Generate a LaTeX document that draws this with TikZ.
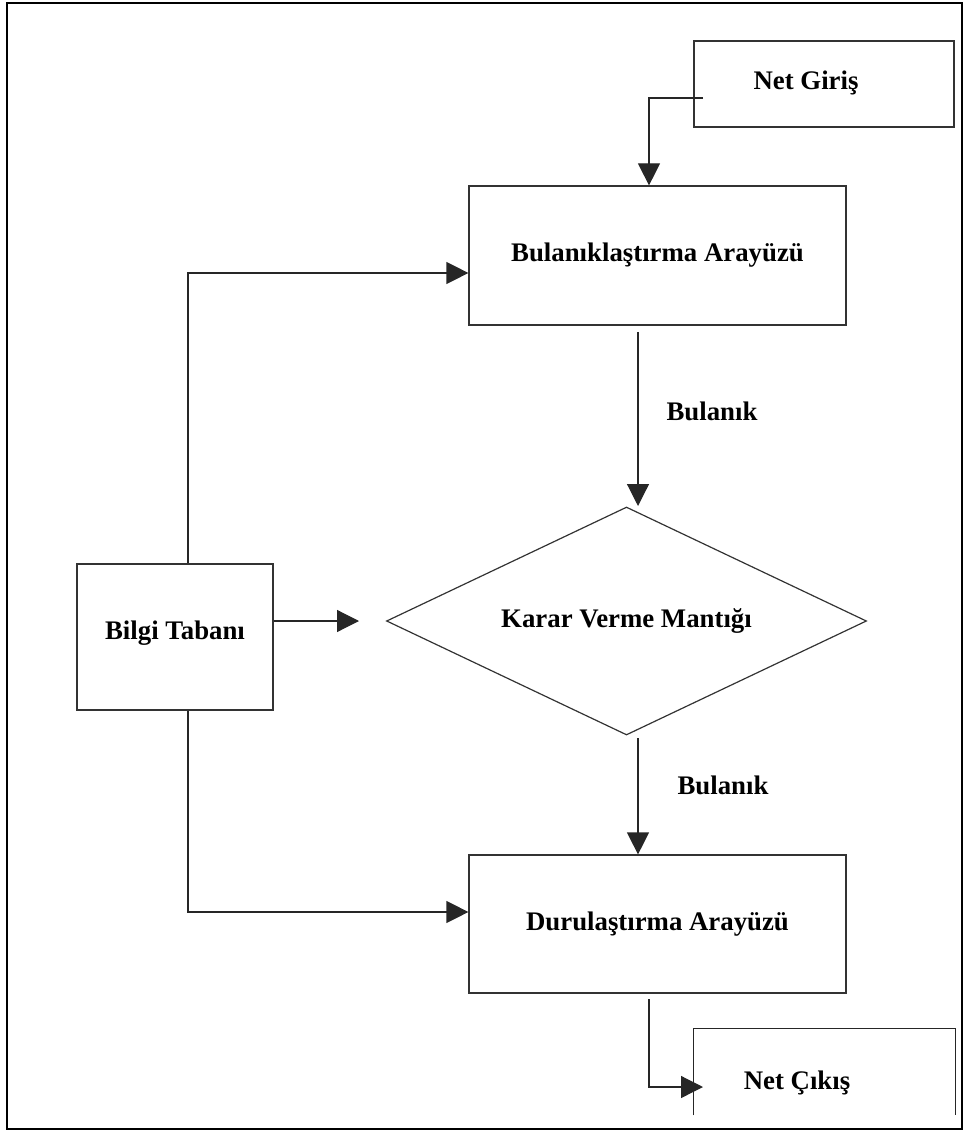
\documentclass[tikz,border=0pt]{standalone}
\usepackage{fontspec}
\setmainfont{Liberation Serif}
\usetikzlibrary{arrows.meta,shapes.geometric}
\tikzset{
	box/.style={draw=black!80, line width=0.6pt, rectangle, inner sep=0pt},
	lbl/.style={font=\fontsize{13.4}{16}\selectfont\bfseries, inner sep=0pt},
	link/.style={draw=black!85, line width=0.6pt},
	arr/.style={link, -{Triangle[length=11pt,width=11pt]}},
}
\begin{document}
\begin{tikzpicture}[x=0.5pt,y=-0.5pt]
		\useasboundingbox (0,0) rectangle (964,1133);
		\draw[line width=1pt] (7,3) rectangle (962,1129);
		\node[box, minimum width=130pt, minimum height=43pt] (netgiris) at (824,84) {};
		\node[lbl] (netgirist) at (806,83) {Net Giriş};
		\node[box, lbl, minimum width=188.5pt, minimum height=69.5pt] (bulan) at (657.5,255.5) {Bulanıklaştırma Arayüzü};
		\node[box, lbl, diamond, aspect=2.1, minimum width=240pt, minimum height=114pt] (karar) at (626.5,621) {Karar Verme Mantığı};
		\node[box, lbl, minimum width=98pt, minimum height=73pt] (bilgi) at (175,637) {\raisebox{7pt}{Bilgi Tabanı}};
		\node[box, lbl, minimum width=188.5pt, minimum height=69pt] (duru) at (657.5,924) {\raisebox{2pt}{Durulaştırma Arayüzü}};
		\node[minimum width=130.5pt, minimum height=43pt, inner sep=0pt] (netcikis) at (824.5,1072) {};
		\draw[link] (netcikis.south west) -- (netcikis.north west) -- (netcikis.north east) -- (netcikis.south east);
		\node[lbl] (netcikist) at (797,1083) {Net Çıkış};
		\node[lbl] (bul1) at (712,411) {Bulanık};
		\node[lbl] (bul2) at (723,785) {Bulanık};
		\coordinate (gin) at (703,98);
		\coordinate (ginturn) at (649,98);
		\draw[arr] (gin) -- (ginturn) -- (ginturn |- bulan.north);
		\coordinate (bulout) at (638,332);
		\coordinate (kararin) at (638,506);
		\draw[arr] (bulout) -- (kararin);
		\coordinate (kararout) at (638,738);
		\draw[arr] (kararout) -- (kararout |- duru.north);
		\coordinate (bilgiok) at (359,621);
		\draw[arr] (bilgi.east |- bilgiok) -- (bilgiok);
		\coordinate (bx) at (188,273);
		\draw[arr] (bx |- bilgi.north) -- (bx) -- (bx -| bulan.west);
		\coordinate (by) at (188,912);
		\draw[arr] (by |- bilgi.south) -- (by) -- (by -| duru.west);
		\coordinate (cout) at (649,999);
		\coordinate (cin) at (703,1087);
		\draw[arr] (cout) |- (cin);
\end{tikzpicture}
\end{document}
